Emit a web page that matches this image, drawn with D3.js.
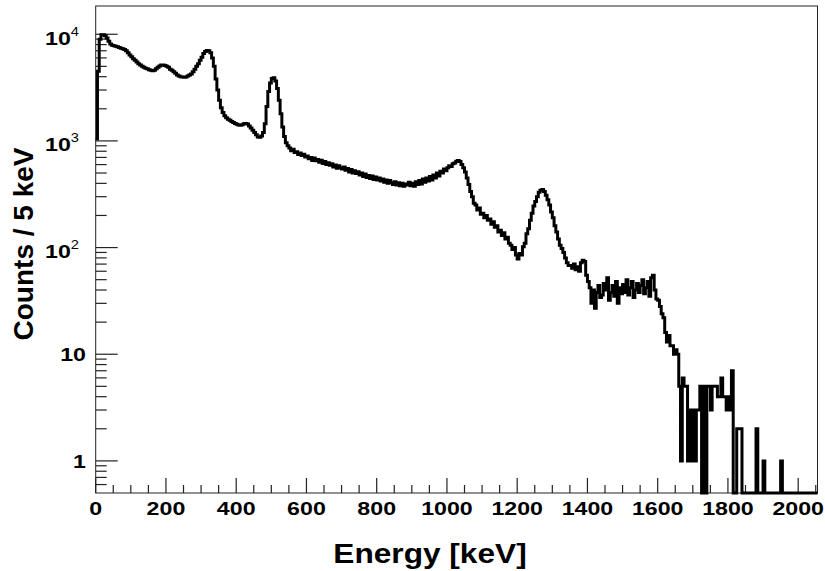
<!DOCTYPE html>
<html lang="en">
<head>
<meta charset="utf-8">
<title>Energy spectrum</title>
<script src="https://cdn.jsdelivr.net/npm/d3@7"></script>
<style>
  body { margin: 0; background: #fff; }
  text { font-family: "Liberation Sans", Arial, sans-serif; font-weight: bold; fill: #000; }
</style>
</head>
<body>
<svg id="chart" width="825" height="571"></svg>
<script>
// spectrum, 5 keV bins starting at 0 keV
var binWidth = 5;
var energyRange = [0, 2055];
var countRange = [0.5, 18400];
var counts = [
  1050, 4500, 9000, 9900, 9900, 9700, 9200, 8600, 8100, 7900,
  7800, 7700, 7650, 7500, 7400, 7300, 7200, 7000, 6700, 6400,
  6150, 5900, 5700, 5500, 5300, 5150, 5000, 4900, 4800, 4750,
  4650, 4600, 4550, 4600, 4750, 4900, 5050, 5150, 5150, 5100,
  5000, 4900, 4700, 4600, 4450, 4300, 4150, 4050, 4000, 3980,
  3950, 3980, 4050, 4150, 4250, 4450, 4700, 5000, 5300, 5700,
  6100, 6600, 6900, 7050, 7000, 6700, 6000, 5000, 3800, 3000,
  2400, 2050, 1850, 1720, 1650, 1600, 1560, 1520, 1490, 1460,
  1430, 1410, 1400, 1420, 1450, 1460, 1440, 1380, 1320, 1260,
  1200, 1140, 1090, 1080, 1110, 1200, 1450, 2100, 2900, 3500,
  3850, 3900, 3650, 3100, 2400, 1800, 1350, 1100, 960, 900,
  860, 810, 835, 780, 790, 745, 770, 730, 750, 705,
  720, 680, 700, 655, 690, 650, 670, 630, 660, 615,
  640, 600, 625, 590, 610, 570, 595, 555, 585, 560,
  545, 570, 530, 550, 510, 540, 500, 525, 495, 515,
  480, 500, 465, 490, 455, 475, 445, 470, 435, 460,
  430, 450, 420, 440, 410, 430, 400, 425, 405, 390,
  415, 385, 405, 380, 400, 375, 395, 385, 410, 380,
  400, 375, 415, 390, 425, 395, 440, 410, 450, 420,
  465, 430, 480, 450, 500, 470, 520, 500, 545, 525,
  560, 585, 575, 610, 620, 645, 655, 640, 600, 560,
  510, 450, 390, 335, 300, 260, 250, 225, 235, 205,
  210, 190, 200, 180, 185, 165, 175, 155, 160, 140,
  145, 130, 138, 120, 125, 110, 105, 96, 100, 85,
  78, 88, 85, 102, 110, 135, 150, 180, 210, 245,
  270, 300, 330, 345, 350, 335, 310, 280, 250, 215,
  190, 160, 140, 120, 105, 98, 90, 80, 72, 68,
  68, 64, 70, 62, 66, 60, 72, 76, 74, 55,
  48, 42, 30, 40, 27, 38, 44, 34, 36, 46,
  40, 52, 32, 38, 44, 35, 48, 30, 42, 37,
  45, 38, 50, 36, 42, 48, 34, 40, 46, 38,
  44, 50, 37, 42, 48, 35, 52, 55, 40, 33,
  32, 28, 24, 22, 16, 13, 15, 12, 12, 10,
  11, 10, 5, 1, 6, 5, 5, 1, 3, 1,
  3, 1, 3, 3, 5, 0, 5, 0, 5, 5,
  3, 5, 5, 5, 4, 4, 6, 4, 4, 3,
  4, 3, 7, 0, 0, 2, 2, 2, 0, 0,
  0, 0, 0, 0, 0, 0, 2, 0, 0, 0,
  1, 0, 0, 0, 0, 0, 0, 0, 0, 0,
  1, 0, 0, 0, 0, 0, 0, 0, 0, 0,
  0, 0, 0, 0, 0, 0, 0, 0, 0, 0, 0
];
var xMajorTicks = [0, 200, 400, 600, 800, 1000, 1200, 1400, 1600, 1800, 2000];
var yDecades = [1, 10, 100, 1000, 10000];
var yLabels = [["1", ""], ["10", ""], ["10", "2"], ["10", "3"], ["10", "4"]];
var xTitle = "Energy [keV]";
var yTitle = "Counts / 5 keV";

var svg = d3.select("#chart");
// note: "top" is taken by window.top, so use other names
var padL = 95.7, padR = 817.5, padT = 6, padB = 493;

var x = d3.scaleLinear().domain(energyRange).range([padL, padR]);
var y = d3.scaleLog().domain(countRange).range([padB, padT]);

// frame
svg.append("rect")
  .attr("x", padL).attr("y", padT)
  .attr("width", padR - padL).attr("height", padB - padT)
  .attr("fill", "none").attr("stroke", "#222").attr("stroke-width", 1);

// x ticks: major 200, minor 50
var xMinor = d3.range(0, energyRange[1] + 1, 50);
svg.append("g").selectAll("line").data(xMinor).enter().append("line")
  .attr("x1", function(d) { return x(d); })
  .attr("x2", function(d) { return x(d); })
  .attr("y1", padB)
  .attr("y2", function(d) { return d % 200 == 0 ? padB - 15 : padB - 8; })
  .attr("stroke", "#222").attr("stroke-width", 1.2);

svg.append("g").selectAll("g").data(xMajorTicks).enter().append("g")
  .attr("transform", function(d) { return "translate(" + x(d) + ",515) scale(1.22,1)"; })
  .append("text")
  .attr("text-anchor", "middle")
  .attr("font-size", 19)
  .text(function(d) { return d; });

// y ticks: decades long, 2..9 short
var yMinor = [];
[0.1, 1, 10, 100, 1000].forEach(function(dec) {
  for (var k = 2; k <= 9; k++) {
    var v = dec * k;
    if (v > countRange[0] && v < countRange[1]) yMinor.push(v);
  }
});
svg.append("g").selectAll("line").data(yMinor).enter().append("line")
  .attr("x1", padL).attr("x2", padL + 11)
  .attr("y1", function(d) { return y(d); })
  .attr("y2", function(d) { return y(d); })
  .attr("stroke", "#222").attr("stroke-width", 1.2);
svg.append("g").selectAll("line").data(yDecades).enter().append("line")
  .attr("x1", padL).attr("x2", padL + 22)
  .attr("y1", function(d) { return y(d); })
  .attr("y2", function(d) { return y(d); })
  .attr("stroke", "#222").attr("stroke-width", 1.2);

var ylab = svg.append("g").selectAll("g").data(yDecades).enter().append("g")
  .attr("transform", function(d, i) {
    var sup = yLabels[i][1] != "";
    return "translate(" + (sup ? 79 : 86) + "," + (y(d) + (sup ? 10.5 : 7)) + ") scale(1.22,1)";
  });
ylab.append("text")
  .attr("text-anchor", "end")
  .attr("font-size", 19)
  .each(function(d, i) {
    var t = d3.select(this);
    t.append("tspan").text(yLabels[i][0]);
    if (yLabels[i][1] != "") {
      t.append("tspan").attr("font-size", 12).attr("font-weight", "normal").attr("dy", -9).text(yLabels[i][1]);
    }
  });

// axis titles
svg.append("g")
  .attr("transform", "translate(430,563) scale(1.13,1)")
  .append("text")
  .attr("text-anchor", "middle")
  .attr("font-size", 28)
  .text(xTitle);
svg.append("text")
  .attr("transform", "translate(33,244) rotate(-90)")
  .attr("text-anchor", "middle")
  .attr("font-size", 28)
  .text(yTitle);

// histogram outline
var pts = counts.map(function(c, i) { return [i * binWidth, c]; });
pts.push([counts.length * binWidth, counts[counts.length - 1]]);
var line = d3.line()
  .x(function(d) { return x(d[0]); })
  .y(function(d) { return y(Math.max(d[1], countRange[0])); })
  .curve(d3.curveStepAfter);
svg.append("path")
  .datum(pts)
  .attr("d", line)
  .attr("fill", "none")
  .attr("stroke", "#000")
  .attr("stroke-width", 3)
  .attr("stroke-linejoin", "miter");
</script>
</body>
</html>
